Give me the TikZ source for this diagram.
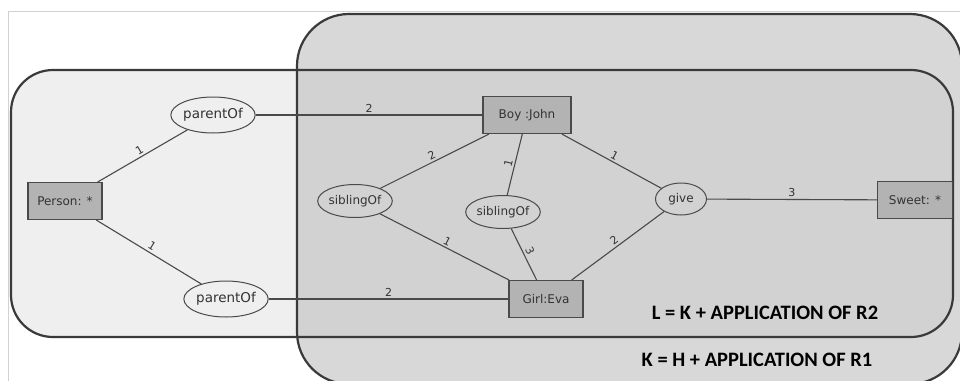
\documentclass[tikz,border=0pt]{standalone}
\usepackage{fontspec}
\setmainfont{DejaVu Sans}
\newfontfamily\calib{Carlito}
\usetikzlibrary{shapes.geometric}
\definecolor{lightbg}{HTML}{EFEFEF}
\definecolor{darkbg}{HTML}{D8D8D8}
\definecolor{overbg}{HTML}{D2D2D2}
\definecolor{framecol}{HTML}{3A3A3A}
\definecolor{boxfill}{HTML}{B3B3B3}
\definecolor{edgecol}{HTML}{4A4A4A}
\definecolor{txtcol}{HTML}{333333}
\begin{document}
\begin{tikzpicture}[x=1pt,y=-1pt,
  entity/.style={draw=edgecol, line width=1.1pt, fill=boxfill, rectangle, inner sep=0pt,
    minimum width=#1, minimum height=37pt, font=\fontsize{12}{12}\selectfont, text=txtcol},
  entity/.default=74pt,
  rel/.style={draw=edgecol, line width=1pt, ellipse, inner sep=0pt,
    minimum width=#1, minimum height=33pt, font=\fontsize{12}{12}\selectfont, text=txtcol},
  rel/.default=64pt,
  conn/.style={draw=edgecol, line width=1.1pt},
  num/.style={sloped, above, inner sep=2pt, font=\fontsize{11}{11}\selectfont, text=txtcol},
  region/.style={draw=framecol, line width=2.2pt},
  caption/.style={font=\calib\bfseries\fontsize{20.5}{20.5}\selectfont, text=black, inner sep=0pt}
]
\useasboundingbox (0,0) rectangle (960,380);
\fill[white] (0,0) rectangle (960,380);
\draw[black!18, line width=0.8pt] (8,390) -- (8,11) -- (970,11);
\begin{scope}
\clip (0,0) rectangle (960,380);
\fill[lightbg, rounded corners=42pt] (11,70) rectangle (953,337);
\fill[darkbg, rounded corners=52pt] (297,14) rectangle (962,384);
\begin{scope}
\clip[rounded corners=42pt] (11,70) rectangle (953,337);
\fill[overbg, rounded corners=52pt] (297,14) rectangle (962,384);
\end{scope}
\draw[region, rounded corners=52pt] (297,14) rectangle (962,384);
\draw[region, rounded corners=42pt] (11,70) rectangle (953,337);
\end{scope}

% nodes
\node[entity] (person) at (65,201) {Person: *};
\node[rel=75pt, minimum height=36pt, font=\fontsize{13.5}{13.5}\selectfont] (parA) at (213,115) {parentOf};
\node[rel=75pt, minimum height=36pt, font=\fontsize{13.5}{13.5}\selectfont] (parB) at (226,299) {parentOf};
\node[entity=88pt] (boy) at (527,115) {Boy :John};
\node[rel] (sibA) at (355,201) {siblingOf};
\node[rel] (sibB) at (503,212) {siblingOf};
\node[rel=51pt, minimum height=32pt] (give) at (681,199) {give};
\node[entity=75pt] (sweet) at (915,200) {Sweet: *};
\node[entity] (girl) at (546,299) {Girl:Eva};

% connectors
\draw[conn] (person) -- node[num] {1} (parA);
\draw[conn] (person) -- node[num] {1} (parB);
\draw[conn] (parA) -- node[num] {2} (boy);
\draw[conn] (parB) -- node[num] {2} (girl);
\draw[conn] (boy) -- node[num] {2} (sibA);
\draw[conn] (boy) -- node[num] {1} (sibB);
\draw[conn] (boy) -- node[num] {1} (give);
\draw[conn] (sibA) -- node[num] {1} (girl);
\draw[conn] (sibB) -- node[num] {3} (girl);
\draw[conn] (give) -- node[num] {2} (girl);
\draw[conn] (give) -- node[num] {3} (sweet);

% captions
\node[caption] (capL) at (765,313) {L = K + APPLICATION OF R2};
\node[caption] (capK) at (757,360) {K = H + APPLICATION OF R1};
\end{tikzpicture}
\end{document}
